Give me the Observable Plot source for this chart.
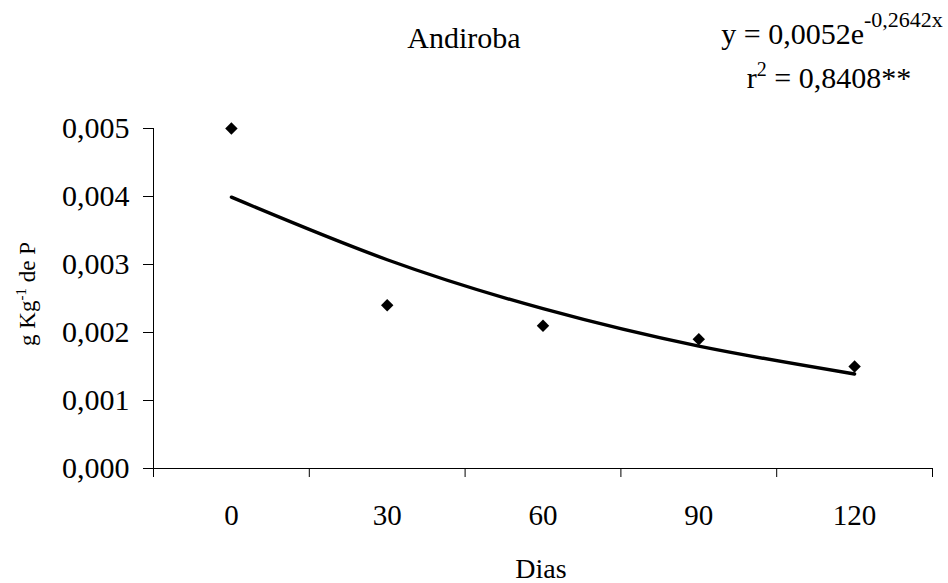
<!DOCTYPE html>
<html><head><meta charset="utf-8">
<script src="https://cdn.jsdelivr.net/npm/d3@7"></script>
<script src="https://cdn.jsdelivr.net/npm/@observablehq/plot@0.6"></script>
<style>
body{margin:0;background:#fff}
#chart{width:948px;height:583px}
svg text{font-family:'Liberation Serif','Times New Roman',serif}
</style>
</head><body><div id="chart"></div>
<script>
// Data
const days = [0, 30, 60, 90, 120];
const observed = [0.0050, 0.0024, 0.0021, 0.0019, 0.0015];
const trendline = [0.00399, 0.00307, 0.00235, 0.00180, 0.00139];
const yTicks = [0, 0.001, 0.002, 0.003, 0.004, 0.005];
const titleText = "Andiroba";
const xLabel = "Dias";
const eqMain = "y = 0,0052e";
const eqExp = "-0,2642x";
const r2Value = " = 0,8408**";

const data = days.map((d, i) => ({day: d, obs: observed[i], fit: trendline[i]}));
const step = days[1] - days[0];
const boundaries = [...days.map(d => d - step / 2), days[days.length - 1] + step / 2];
const fmt = d => d.toFixed(3).replace(".", ",");

const plot = Plot.plot({
  width: 948, height: 583,
  marginLeft: 153, marginRight: 16, marginTop: 128, marginBottom: 115,
  style: {fontFamily: "'Liberation Serif','Times New Roman',serif", fontSize: "29px", color: "#000", background: "#fff", overflow: "visible"},
  x: {type: "linear", domain: [boundaries[0], boundaries[boundaries.length - 1]]},
  y: {domain: [0, 0.005]},
  marks: [
    Plot.axisY({ticks: yTicks, tickFormat: fmt, tickSize: 10, tickPadding: 14, label: null, fontSize: 30}),
    Plot.axisX({ticks: boundaries, tickFormat: () => "", tickSize: 9, label: null}),
    Plot.axisX({ticks: days, tickFormat: d => String(d), tickSize: 0, tickPadding: 36, label: null, fontSize: 29}),
    Plot.ruleX([boundaries[0]], {stroke: "#000"}),
    Plot.ruleY([0], {stroke: "#000"}),
    Plot.line(data, {x: "day", y: "fit", curve: "natural", stroke: "#000", strokeWidth: 3.4}),
    Plot.dot(data, {x: "day", y: "obs", symbol: "diamond2", r: 5.6, fill: "#000", stroke: "none"})
  ]
});
document.getElementById("chart").appendChild(plot);

const svg = d3.select(plot);
const serif = "'Liberation Serif','Times New Roman',serif";

svg.append("text").attr("x", 464).attr("y", 48).attr("text-anchor", "middle")
  .attr("font-size", 30).attr("font-family", serif).attr("fill", "#000").text(titleText);

svg.append("text").attr("x", 541).attr("y", 578).attr("text-anchor", "middle")
  .attr("font-size", 28).attr("font-family", serif).attr("fill", "#000").text(xLabel);

const eq1 = svg.append("text").attr("x", 832).attr("y", 44).attr("text-anchor", "middle")
  .attr("font-size", 30).attr("font-family", serif).attr("fill", "#000");
eq1.append("tspan").text(eqMain);
eq1.append("tspan").attr("dy", -17).attr("font-size", 22).text(eqExp);

const eq2 = svg.append("text").attr("x", 829).attr("y", 88).attr("text-anchor", "middle")
  .attr("font-size", 30).attr("font-family", serif).attr("fill", "#000");
eq2.append("tspan").text("r");
eq2.append("tspan").attr("dy", -12).attr("font-size", 20).text("2");
eq2.append("tspan").attr("dy", 12).text(r2Value);

const yl = svg.append("text").attr("transform", "translate(35,294) rotate(-90)").attr("text-anchor", "middle")
  .attr("font-size", 23).attr("font-family", serif).attr("fill", "#000");
yl.append("tspan").text("g Kg");
yl.append("tspan").attr("dy", -9).attr("font-size", 15).text("-1");
yl.append("tspan").attr("dy", 9).text(" de P");
</script>
</body></html>
